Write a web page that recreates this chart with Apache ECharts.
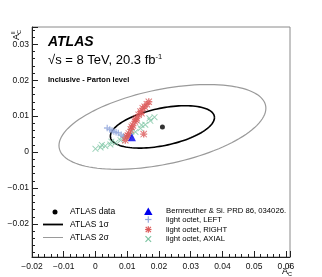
<!DOCTYPE html>
<html><head><meta charset="utf-8">
<script src="https://cdn.jsdelivr.net/npm/echarts@6/dist/echarts.min.js"></script>
<style>html,body{margin:0;padding:0;background:#fff}#c{width:322px;height:277px}</style>
</head><body><div id="c"></div>
<script>
// ---- data ----
var atlasData = [[0.0211, 0.0070]];
// [centerX, centerY, halfExtentX, halfExtentY, correlation]
var ellipse1s = [[0.0211, 0.0070, 0.0164, 0.0059, 0.44]];
var ellipse2s = [[0.0211, 0.0070, 0.0326, 0.0118, 0.44]];
var bernreuther = [[0.0115, 0.0041]];
var octetLeft = [[0.0037,0.0067],[0.0045,0.0063],[0.0052,0.0060],[0.0058,0.0057],[0.0065,0.0055],[0.0072,0.0053],[0.0081,0.0048],[0.0088,0.0044]];
var octetRight = [[0.0162,0.0133],[0.0168,0.0140],[0.0155,0.0126],[0.0149,0.0122],[0.0142,0.0113],[0.0145,0.0108],[0.0136,0.0104],[0.0130,0.0094],[0.0127,0.0090],[0.0124,0.0085],[0.0118,0.0074],[0.0114,0.0070],[0.0111,0.0063],[0.0105,0.0052],[0.0102,0.0046],[0.0099,0.0042],[0.0094,0.0033],[0.0152,0.0050]];
var octetAxial = [[0.0000,0.0009],[0.0016,0.0013],[0.0031,0.0017],[0.0047,0.0021],[0.0063,0.0026],[0.0079,0.0033],[0.0094,0.0040],[0.0110,0.0048],[0.0126,0.0056],[0.0142,0.0066],[0.0157,0.0076],[0.0173,0.0087],[0.0186,0.0097],
  [0.0020,0.0020],[0.0050,0.0029],[0.0082,0.0041],[0.0113,0.0057],[0.0145,0.0075],[0.0170,0.0094]];
var xTicks = [-0.02,-0.01,0,0.01,0.02,0.03,0.04,0.05,0.06];
var yTicks = [-0.02,-0.01,0,0.01,0.02,0.03];

var FONT = 'Liberation Sans, Arial, Helvetica, sans-serif';
var PLUS_D = 'M4,0H6V4H10V6H6V10H4V6H0V4H4Z';
var X_D = 'M0,1L1,0L10,9L9,10Z M1,10L0,9L9,0L10,1Z';
var PLUS = 'path://' + PLUS_D;
var STAR = 'path://' + PLUS_D + ' ' + X_D;
var C_LEFT = '#94a8dc', C_RIGHT = '#dc5a5a', C_AXIAL = '#7cc4a2';

function fmt(ticks){
  return function(v){
    for (var i=0;i<ticks.length;i++){
      if (Math.abs(ticks[i]-v) < 1e-9){
        if (ticks[i] === 0) return '0';
        return (ticks[i] < 0 ? '\u2212' : '') + Math.abs(ticks[i]).toFixed(2);
      }
    }
    return '';
  };
}

function ellipseItem(color, width){
  return function(params, api){
    var cx = api.value(0), cy = api.value(1), sx = api.value(2), sy = api.value(3), r = api.value(4);
    var pts = [], n = 120, q = Math.sqrt(1 - r*r);
    for (var i=0;i<=n;i++){
      var t = 2*Math.PI*i/n;
      pts.push(api.coord([cx + sx*Math.cos(t), cy + sy*(r*Math.cos(t) + q*Math.sin(t))]));
    }
    return {type:'polyline', shape:{points:pts}, style:{stroke:color, lineWidth:width, fill:null}};
  };
}

// legend glyph helpers (plain line strokes)
function seg(x1,y1,x2,y2,c,w){ return {type:'line', shape:{x1:x1,y1:y1,x2:x2,y2:y2}, style:{stroke:c, lineWidth:w||1.2}}; }
function plusG(cx,cy,h,c){ return [seg(cx-h,cy,cx+h,cy,c), seg(cx,cy-h,cx,cy+h,c)]; }
function crossG(cx,cy,h,c){ return [seg(cx-h,cy-h,cx+h,cy+h,c), seg(cx-h,cy+h,cx+h,cy-h,c)]; }

var graphics = [
  {type:'text', left:48, top:35, style:{text:'ATLAS', font:'italic bold 14px '+FONT, fill:'#000'}},
  {type:'text', left:48, top:54, style:{text:'\u221As = 8 TeV, 20.3 fb', font:'13px '+FONT, fill:'#000'}},
  {type:'text', left:155.5, top:53, style:{text:'-1', font:'7.5px '+FONT, fill:'#000'}},
  {type:'text', left:48, top:76, style:{text:'Inclusive - Parton level', font:'bold 7.5px '+FONT, fill:'#000'}},
  {type:'group', x:17, y:40, rotation:Math.PI/2, children:[
    {type:'text', x:0, y:0, style:{text:'A', font:'9px '+FONT, fill:'#000', verticalAlign:'middle', align:'left'}},
    {type:'text', x:6, y:2.5, style:{text:'C', font:'5.5px '+FONT, fill:'#000', verticalAlign:'middle', align:'left'}},
    {type:'text', x:6, y:-3.5, style:{text:'ll', font:'5.5px '+FONT, fill:'#000', verticalAlign:'middle', align:'left'}}
  ]},
  {type:'text', x:282, y:272, style:{text:'A', font:'9px '+FONT, fill:'#000', verticalAlign:'middle', align:'left'}},
  {type:'text', x:288, y:266.5, style:{text:'tt\u0304', font:'5.5px '+FONT, fill:'#000', verticalAlign:'middle', align:'left'}},
  {type:'text', x:288, y:274.5, style:{text:'C', font:'5.5px '+FONT, fill:'#000', verticalAlign:'middle', align:'left'}},
  {type:'circle', shape:{cx:55, cy:212, r:2.5}, style:{fill:'#000'}},
  {type:'text', x:70, y:212, style:{text:'ATLAS data', font:'8.5px '+FONT, fill:'#000', verticalAlign:'middle'}},
  seg(43,224.5,63,224.5,'#000',1.8),
  {type:'text', x:70, y:224.5, style:{text:'ATLAS 1\u03c3', font:'8.5px '+FONT, fill:'#000', verticalAlign:'middle'}},
  seg(43,237.5,63,237.5,'#9a9a9a',1),
  {type:'text', x:70, y:237.5, style:{text:'ATLAS 2\u03c3', font:'8.5px '+FONT, fill:'#000', verticalAlign:'middle'}},
  {type:'polygon', shape:{points:[[148.3,207.5],[152.5,215],[144.1,215]]}, style:{fill:'#0000ee'}},
  {type:'text', x:166, y:210.5, style:{text:'Bernreuther & Si. PRD 86, 034026.', font:'7.7px '+FONT, fill:'#000', verticalAlign:'middle'}},
  {type:'text', x:166, y:219.5, style:{text:'light octet, LEFT', font:'7.7px '+FONT, fill:'#000', verticalAlign:'middle'}},
  {type:'text', x:166, y:229.5, style:{text:'light octet, RIGHT', font:'7.7px '+FONT, fill:'#000', verticalAlign:'middle'}},
  {type:'text', x:166, y:239, style:{text:'light octet, AXIAL', font:'7.7px '+FONT, fill:'#000', verticalAlign:'middle'}}
].concat(plusG(148.3,219.5,3.2,C_LEFT), plusG(148.3,229.5,3.2,C_RIGHT), crossG(148.3,229.5,2.6,C_RIGHT), crossG(148.3,239,2.8,C_AXIAL));

var chart = echarts.init(document.getElementById('c'), null, {renderer:'canvas'});
chart.setOption({
  animation:false,
  grid:{left:32, right:32, top:27, bottom:20, show:true, borderColor:'#8a8a8a', borderWidth:1},
  xAxis:{type:'value', min:-0.02, max:0.0613, interval:0.01,
    axisLine:{onZero:false, lineStyle:{color:'#222', width:1}},
    axisTick:{inside:true, length:6, lineStyle:{color:'#222'}},
    minorTick:{show:true, splitNumber:5, length:3, lineStyle:{color:'#222'}},
    splitLine:{show:false},
    axisLabel:{formatter:fmt(xTicks), color:'#111', fontSize:8.5, fontFamily:FONT, margin:5}},
  yAxis:{type:'value', min:-0.0292, max:0.0348, minInterval:0.01, maxInterval:0.01,
    axisLine:{onZero:false, lineStyle:{color:'#222', width:1}},
    axisTick:{inside:true, length:6, lineStyle:{color:'#222'}},
    minorTick:{show:true, splitNumber:5, length:3, lineStyle:{color:'#222'}},
    splitLine:{show:false},
    axisLabel:{formatter:fmt(yTicks), color:'#111', fontSize:8.5, fontFamily:FONT, margin:3}},
  series:[
    {type:'custom', data:ellipse2s, renderItem:ellipseItem('#9a9a9a', 1.2), z:2},
    {type:'custom', data:ellipse1s, renderItem:ellipseItem('#000', 1.6), z:3},
    {type:'scatter', data:octetAxial, symbol:'path://' + X_D, symbolSize:6.5, itemStyle:{color:C_AXIAL}, z:4},
    {type:'scatter', data:octetLeft, symbol:PLUS, symbolSize:6.5, itemStyle:{color:C_LEFT}, z:5},
    {type:'scatter', data:octetRight, symbol:STAR, symbolSize:7, itemStyle:{color:C_RIGHT}, z:6},
    {type:'scatter', data:bernreuther, symbol:'triangle', symbolSize:8, itemStyle:{color:'#0000ee'}, z:7},
    {type:'scatter', data:atlasData, symbol:'circle', symbolSize:5, itemStyle:{color:'#000'}, z:8}
  ],
  graphic:graphics
});
</script></body></html>
